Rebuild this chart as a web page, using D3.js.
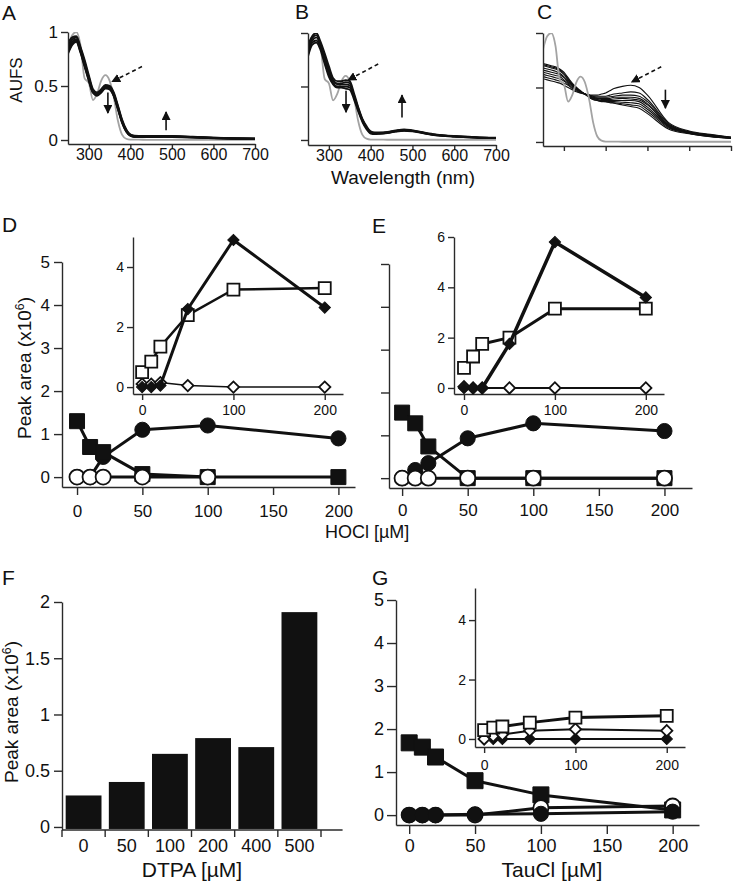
<!DOCTYPE html>
<html><head><meta charset="utf-8">
<script src="https://cdn.jsdelivr.net/npm/d3@7"></script>
<style>
body{margin:0;background:#fff;}
svg{display:block;}
</style></head><body>
<svg id="fig" width="745" height="883"></svg>
<script>
// ---------------- DATA ----------------
const wavelengths = [250,260,270,280,290,300,310,320,330,340,350,360,370,380,390,400,410,420,440,460,480,500,550,600,650,700];
const wlTicks = [300,400,500,600,700];
const aufsTicks = [0,0.5,1];

const greyRef = [0.85,0.97,1.00,0.88,0.57,0.53,0.37,0.43,0.55,0.60,0.55,0.40,0.18,0.05,0.012,0.004,0.003,0.003,0.002,0.002,0.002,0.002,0.002,0.002,0.002,0.002];

const specA1 = [0.90,0.95,0.96,0.86,0.74,0.60,0.47,0.44,0.47,0.51,0.50,0.44,0.32,0.19,0.10,0.05,0.040,0.038,0.037,0.037,0.037,0.036,0.030,0.022,0.016,0.013];
const specA2 = [0.87,0.93,0.95,0.85,0.72,0.58,0.46,0.43,0.46,0.50,0.49,0.43,0.31,0.18,0.09,0.05,0.035,0.034,0.034,0.034,0.035,0.034,0.028,0.020,0.015,0.012];
const specA3 = [0.84,0.91,0.93,0.83,0.70,0.57,0.45,0.42,0.45,0.49,0.48,0.42,0.30,0.17,0.09,0.045,0.032,0.031,0.031,0.032,0.033,0.032,0.026,0.019,0.014,0.011];
const specA4 = [0.82,0.89,0.92,0.82,0.69,0.56,0.44,0.42,0.45,0.48,0.48,0.41,0.29,0.17,0.08,0.04,0.030,0.029,0.029,0.030,0.031,0.030,0.025,0.018,0.013,0.010];
const specA5 = [0.80,0.88,0.91,0.81,0.68,0.55,0.44,0.41,0.44,0.48,0.47,0.41,0.29,0.16,0.08,0.04,0.028,0.027,0.027,0.028,0.029,0.028,0.024,0.017,0.012,0.010];

const specB1 = [0.89,0.97,1.00,0.92,0.81,0.69,0.58,0.55,0.55,0.56,0.55,0.44,0.31,0.20,0.13,0.08,0.07,0.07,0.075,0.09,0.10,0.09,0.055,0.037,0.027,0.021];
const specB2 = [0.86,0.95,0.98,0.90,0.78,0.66,0.56,0.53,0.53,0.54,0.53,0.42,0.30,0.19,0.12,0.075,0.065,0.066,0.072,0.086,0.095,0.088,0.052,0.035,0.025,0.020];
const specB3 = [0.83,0.93,0.96,0.88,0.76,0.63,0.55,0.52,0.52,0.52,0.51,0.41,0.29,0.19,0.115,0.07,0.062,0.063,0.070,0.083,0.092,0.085,0.050,0.034,0.024,0.019];
const specB4 = [0.80,0.91,0.93,0.86,0.73,0.61,0.53,0.50,0.50,0.50,0.49,0.40,0.28,0.18,0.11,0.065,0.058,0.060,0.067,0.080,0.088,0.082,0.048,0.032,0.023,0.018];
const specB5 = [0.78,0.89,0.91,0.84,0.71,0.59,0.52,0.49,0.49,0.48,0.47,0.38,0.27,0.17,0.10,0.06,0.055,0.057,0.065,0.078,0.085,0.080,0.046,0.031,0.022,0.017];

const specC1 = [0.58,0.57,0.56,0.55,0.54,0.52,0.50,0.48,0.46,0.45,0.44,0.43,0.43,0.43,0.44,0.45,0.47,0.49,0.51,0.52,0.50,0.43,0.18,0.10,0.070,0.045];
const specC2 = [0.60,0.59,0.58,0.57,0.56,0.54,0.52,0.49,0.47,0.45,0.44,0.43,0.42,0.42,0.42,0.42,0.43,0.44,0.45,0.46,0.45,0.39,0.17,0.095,0.066,0.043];
const specC3 = [0.62,0.61,0.60,0.59,0.58,0.56,0.53,0.50,0.48,0.46,0.44,0.43,0.42,0.41,0.41,0.41,0.415,0.42,0.43,0.43,0.42,0.37,0.16,0.092,0.063,0.041];
const specC4 = [0.64,0.63,0.62,0.61,0.60,0.57,0.54,0.51,0.48,0.46,0.44,0.43,0.41,0.40,0.40,0.40,0.40,0.41,0.41,0.41,0.40,0.35,0.155,0.089,0.061,0.040];
const specC5 = [0.66,0.65,0.64,0.63,0.62,0.59,0.55,0.52,0.49,0.46,0.44,0.42,0.41,0.40,0.39,0.39,0.39,0.395,0.40,0.395,0.385,0.34,0.15,0.086,0.059,0.038];
const specC6 = [0.68,0.67,0.66,0.65,0.63,0.60,0.56,0.52,0.49,0.46,0.44,0.42,0.40,0.39,0.38,0.38,0.38,0.38,0.38,0.38,0.37,0.32,0.145,0.083,0.056,0.037];
const specC7 = [0.70,0.69,0.68,0.67,0.65,0.62,0.57,0.53,0.49,0.46,0.44,0.42,0.40,0.39,0.38,0.375,0.37,0.37,0.365,0.36,0.35,0.30,0.14,0.080,0.053,0.035];
const specC8 = [0.71,0.70,0.69,0.68,0.66,0.63,0.58,0.53,0.50,0.46,0.44,0.41,0.39,0.38,0.375,0.37,0.365,0.36,0.35,0.34,0.33,0.28,0.13,0.078,0.050,0.033];
const specC9 = [0.72,0.71,0.70,0.69,0.67,0.64,0.59,0.54,0.50,0.47,0.44,0.41,0.39,0.38,0.37,0.37,0.36,0.355,0.34,0.325,0.31,0.26,0.12,0.075,0.048,0.032];

// arrows in data units [wavelength, AUFS]
const arrowsA = [{x1:428,y1:0.68,x2:356,y2:0.54,dash:true},{x1:346,y1:0.44,x2:346,y2:0.25},{x1:486,y1:0.09,x2:486,y2:0.26}];
const arrowsB = [{x1:418,y1:0.71,x2:346,y2:0.56,dash:true},{x1:341,y1:0.46,x2:341,y2:0.26},{x1:475,y1:0.21,x2:475,y2:0.42}];
const arrowsC = [{x1:533,y1:0.69,x2:462,y2:0.55,dash:true},{x1:543,y1:0.48,x2:543,y2:0.31}];

// Panels D/E/G concentrations
const conc = [0,10,20,50,100,200];
const concTicks = [0,50,100,150,200];
const insetTicks = [0,100,200];
const mainYTicks = [0,1,2,3,4,5];

// D main
const dSquaresFilled = [1.30,0.70,0.58,0.07,0.0,0.0];
const dCirclesFilled = [0,0,0.47,1.10,1.20,0.90];
const dCirclesOpenX = [0,10,20,50,100];
const dCirclesOpen = [0,0,0,0,0];
// D inset
const dInsTicks = [0,2,4];
const dInsDiamondsFilled = [0,0,0.05,2.60,4.90,2.65];
const dInsSquaresOpen = [0.50,0.85,1.35,2.40,3.25,3.30];
const dInsDiamondsOpen = [0.10,0.10,0.15,0.05,0.0,0.0];

// E main
const eSquaresFilled = [1.53,1.28,0.74,0.0,0.0,0.0];
const eCirclesFilled = [0,0.19,0.35,0.93,1.28,1.10];
const eCirclesOpen = [0,0,0,0,0,0];
// E inset
const eInsTicks = [0,2,4,6];
const eInsDiamondsFilled = [0,0,0,1.75,5.80,3.60];
const eInsSquaresOpen = [0.80,1.25,1.75,2.00,3.15,3.15];
const eInsDiamondsOpen = [0.05,0,0,0,0,0];

// F bars
const dtpaCats = ["0","50","100","200","400","500"];
const dtpaValues = [0.28,0.40,0.65,0.79,0.71,1.91];
const fYTicks = [0,0.5,1,1.5,2];

// G main
const gSquaresFilled = [1.68,1.58,1.35,0.80,0.47,0.12];
const gCirclesFilled = [0,0,0,0.02,0.03,0.08];
const gCirclesOpen = [0,0,0,0,0.17,0.21];
// G inset
const gInsTicks = [0,2,4];
const gInsSquaresOpen = [0.30,0.38,0.42,0.55,0.72,0.78];
const gInsDiamondsOpen = [0,0.10,0.15,0.28,0.33,0.28];
const gInsDiamondsFilled = [0,0,0,0,0,0];

// ---------------- DRAWING ----------------
const FONT = '"Liberation Sans", Arial, Helvetica, sans-serif';
const svg = d3.select("#fig").attr("font-family", FONT);
const INK = "#111";
const AX = "#2a2a2a";

svg.append("defs").append("marker")
  .attr("id","ah").attr("viewBox","0 0 10 10").attr("refX",9).attr("refY",5)
  .attr("markerUnits","userSpaceOnUse").attr("markerWidth",9).attr("markerHeight",9)
  .attr("orient","auto")
  .append("path").attr("d","M0,0L10,5L0,10z").attr("fill",INK);

function styleAxis(g, fs) {
  g.attr("font-family", null).attr("font-size", null);
  g.selectAll(".domain").attr("stroke", AX).attr("stroke-width", 1.4);
  g.selectAll(".tick line").attr("stroke", AX).attr("stroke-width", 1.4);
  g.selectAll(".tick text").attr("font-size", fs).attr("fill", INK).attr("font-family", FONT);
}

function fmtNum(d){ return String(d); }

function text(x, y, s, fs, anchor, rot) {
  const t = svg.append("text").attr("x", x).attr("y", y).attr("font-size", fs)
    .attr("fill", INK).attr("text-anchor", anchor || "start").text(s);
  if (rot) t.attr("transform", `rotate(${rot},${x},${y})`);
  return t;
}

function peakLabel(x, y, fs) {
  const t = svg.append("text").attr("x", x).attr("y", y).attr("font-size", fs)
    .attr("fill", INK).attr("text-anchor", "middle")
    .attr("transform", `rotate(-90,${x},${y})`);
  t.append("tspan").text("Peak area (x10");
  t.append("tspan").attr("dy", -7).attr("font-size", fs * 0.65).text("6");
  t.append("tspan").attr("dy", 7).text(")");
}

let clipId = 0;
function spectraPanel(cfg) {
  const x = d3.scaleLinear().domain([250, 700]).range(cfg.xr);
  const y = d3.scaleLinear().domain(cfg.yd).range(cfg.yr);
  const ax = svg.append("g").attr("transform", `translate(0,${cfg.yr[0]})`)
    .call(d3.axisBottom(x).tickValues(wlTicks).tickSize(5).tickSizeOuter(0).tickPadding(0)
      .tickFormat(cfg.xLabels ? fmtNum : ""));
  styleAxis(ax, 16);
  const ay = svg.append("g").attr("transform", `translate(${cfg.xr[0]},0)`)
    .call(d3.axisLeft(y).tickValues(aufsTicks).tickSize(7).tickSizeOuter(0).tickPadding(3)
      .tickFormat(cfg.yLabels ? fmtNum : ""));
  styleAxis(ay, 17);

  const id = "clip" + (clipId++);
  svg.append("clipPath").attr("id", id).append("rect")
    .attr("x", cfg.xr[0] + 1).attr("y", cfg.yr[1]).attr("width", cfg.xr[1] - cfg.xr[0])
    .attr("height", cfg.yr[0] - cfg.yr[1] - 1);
  const g = svg.append("g").attr("clip-path", `url(#${id})`);
  const line = d3.line().x((d, i) => x(wavelengths[i])).y(d => y(d)).curve(d3.curveMonotoneX);
  const drawGrey = () => g.append("path").attr("d", line(greyRef)).attr("fill", "none")
    .attr("stroke", "#a3a3a3").attr("stroke-width", 1.8);
  if (!cfg.greyOnTop) drawGrey();
  cfg.curves.forEach(c => g.append("path").attr("d", line(c)).attr("fill", "none")
    .attr("stroke", INK).attr("stroke-width", cfg.lw));
  if (cfg.greyOnTop) drawGrey();

  cfg.arrows.forEach(a => {
    svg.append("line").attr("x1", x(a.x1)).attr("y1", y(a.y1)).attr("x2", x(a.x2)).attr("y2", y(a.y2))
      .attr("stroke", INK).attr("stroke-width", 1.6)
      .attr("stroke-dasharray", a.dash ? "4,3" : null)
      .attr("marker-end", "url(#ah)");
  });
}

spectraPanel({xr:[68,255], yd:[-0.037,1], yr:[144,32], xLabels:true, yLabels:true,
  curves:[specA5,specA4,specA3,specA2,specA1], lw:2, arrows:arrowsA, greyOnTop:false});
spectraPanel({xr:[308,496], yd:[-0.047,1], yr:[145,33], xLabels:true, yLabels:false,
  curves:[specB5,specB4,specB3,specB2,specB1], lw:1.8, arrows:arrowsB, greyOnTop:false});
spectraPanel({xr:[543,731], yd:[-0.037,1], yr:[146,33], xLabels:false, yLabels:false,
  curves:[specC9,specC8,specC7,specC6,specC5,specC4,specC3,specC2,specC1], lw:1.1, arrows:arrowsC, greyOnTop:true});

text(17, 80, "AUFS", 17, "middle", -90).attr("dy", 5);
text(403, 184, "Wavelength (nm)", 19, "middle");

// ---- scatter helpers ----
function makeAxes(cfg) {
  const x = d3.scaleLinear().domain(cfg.xd).range(cfg.xr);
  const y = d3.scaleLinear().domain(cfg.yd).range(cfg.yr);
  const ax = svg.append("g").attr("transform", `translate(0,${cfg.yr[0]})`)
    .call(d3.axisBottom(x).tickValues(cfg.xt).tickSize(cfg.ts).tickSizeOuter(0).tickPadding(cfg.xpad)
      .tickFormat(fmtNum));
  styleAxis(ax, cfg.fs);
  const ay = svg.append("g").attr("transform", `translate(${cfg.xr[0]},0)`)
    .call(d3.axisLeft(y).tickValues(cfg.yt).tickSize(cfg.ts).tickSizeOuter(0).tickPadding(cfg.ypad)
      .tickFormat(cfg.yLabels === false ? "" : fmtNum));
  styleAxis(ay, cfg.fs);
  return {x, y};
}

function drawSeries(s, xs, ys, st) {
  const pts = xs.map((v, i) => ({x: v, y: ys[i]}));
  const g = svg.append("g");
  g.append("path")
    .attr("d", d3.line().x(d => s.x(d.x)).y(d => s.y(d.y))(pts))
    .attr("fill", "none").attr("stroke", INK).attr("stroke-width", st.lw)
    .attr("stroke-linejoin", "round");
  const type = st.shape === "circle" ? d3.symbolCircle : d3.symbolSquare;
  const sym = d3.symbol().type(type).size(st.size);
  g.selectAll("path.m").data(pts).join("path").attr("class", "m")
    .attr("d", sym)
    .attr("transform", d => `translate(${s.x(d.x)},${s.y(d.y)})` + (st.shape === "diamond" ? " rotate(45)" : ""))
    .attr("fill", st.open ? "#fff" : INK)
    .attr("stroke", INK).attr("stroke-width", st.open ? 1.8 : 1);
}

const SQ = 225, CI = 180, ISQ = 144, IDI = 64;

// ---------- Panel D ----------
const dMain = makeAxes({xd:[-11.5,212.7], xr:[62,355], yd:[-0.23,5], yr:[487,262], xt:concTicks, yt:mainYTicks,
  ts:8, xpad:10, ypad:4, fs:17});
drawSeries(dMain, conc, dCirclesFilled, {shape:"circle", size:CI, lw:3});
drawSeries(dMain, conc, dSquaresFilled, {shape:"square", size:SQ, lw:3});
drawSeries(dMain, dCirclesOpenX, dCirclesOpen, {shape:"circle", size:CI, lw:3, open:true});

const dIns = makeAxes({xd:[-10,220], xr:[133,343], yd:[-0.23,5], yr:[394,237], xt:insetTicks, yt:dInsTicks,
  ts:6, xpad:5, ypad:3, fs:14});
drawSeries(dIns, conc, dInsDiamondsOpen, {shape:"diamond", size:IDI, lw:1.5, open:true});
drawSeries(dIns, conc, dInsSquaresOpen, {shape:"square", size:ISQ, lw:2.5, open:true});
drawSeries(dIns, conc, dInsDiamondsFilled, {shape:"diamond", size:IDI, lw:3});

// ---------- Panel E ----------
const eMain = makeAxes({xd:[-10,221], xr:[389,692], yd:[-0.23,5], yr:[488,264], xt:concTicks, yt:mainYTicks,
  ts:8, xpad:8, ypad:4, fs:17, yLabels:false});
drawSeries(eMain, conc, eCirclesFilled, {shape:"circle", size:CI, lw:3});
drawSeries(eMain, conc, eSquaresFilled, {shape:"square", size:SQ, lw:3});
drawSeries(eMain, conc, eCirclesOpen, {shape:"circle", size:CI, lw:3, open:true});

const eIns = makeAxes({xd:[-11,220], xr:[454,664], yd:[-0.24,6], yr:[394,237], xt:insetTicks, yt:eInsTicks,
  ts:6, xpad:5, ypad:3, fs:14});
drawSeries(eIns, conc, eInsDiamondsOpen, {shape:"diamond", size:IDI, lw:2, open:true});
drawSeries(eIns, conc, eInsSquaresOpen, {shape:"square", size:ISQ, lw:3, open:true});
drawSeries(eIns, conc, eInsDiamondsFilled, {shape:"diamond", size:IDI, lw:3.5});

peakLabel(31, 368, 19);
text(325, 538, "HOCl [µM]", 18, "start");

// ---------- Panel F ----------
{
  const x = d3.scaleBand().domain(dtpaCats).range([62, 321]).paddingInner(0.17).paddingOuter(0.085);
  const y = d3.scaleLinear().domain([-0.027, 2]).range([830, 602]);
  svg.append("g").selectAll("rect").data(dtpaValues).join("rect")
    .attr("x", (d, i) => x(dtpaCats[i])).attr("width", x.bandwidth())
    .attr("y", d => y(d)).attr("height", d => y(0) - y(d) + 2)
    .attr("fill", INK);
  const ay = svg.append("g").attr("transform", "translate(62,0)")
    .call(d3.axisLeft(y).tickValues(fYTicks).tickSize(8).tickSizeOuter(0).tickPadding(4).tickFormat(fmtNum));
  styleAxis(ay, 18);
  // x axis: line with ticks at category boundaries
  const r = x.range(), step = x.step();
  const xg = svg.append("g");
  xg.append("line").attr("x1", r[0]).attr("x2", r[1] + step * 0.5).attr("y1", 830).attr("y2", 830)
    .attr("stroke", AX).attr("stroke-width", 1.4);
  d3.range(dtpaCats.length + 1).forEach(i => {
    xg.append("line").attr("x1", r[0] + i * step).attr("x2", r[0] + i * step)
      .attr("y1", 830).attr("y2", 837).attr("stroke", AX).attr("stroke-width", 1.4);
  });
  dtpaCats.forEach(c => text(x(c) + x.bandwidth() / 2, 852, c, 18, "middle"));
  peakLabel(18, 712, 19);
  text(192, 877, "DTPA [µM]", 21, "middle");
}

// ---------- Panel G ----------
const gMain = makeAxes({xd:[-10,220], xr:[396,699], yd:[-0.23,5], yr:[825,600], xt:concTicks, yt:mainYTicks,
  ts:9, xpad:5, ypad:3, fs:18});
drawSeries(gMain, conc, gSquaresFilled, {shape:"square", size:256, lw:3});
drawSeries(gMain, conc, gCirclesOpen, {shape:"circle", size:CI, lw:3, open:true});
drawSeries(gMain, conc, gCirclesFilled, {shape:"circle", size:CI, lw:3});

const gIns = makeAxes({xd:[-10,220], xr:[475,685], yd:[-0.27,5.08], yr:[747,588], xt:insetTicks, yt:gInsTicks,
  ts:6, xpad:7, ypad:3, fs:14});
drawSeries(gIns, conc, gInsDiamondsFilled, {shape:"diamond", size:IDI, lw:2});
drawSeries(gIns, conc, gInsDiamondsOpen, {shape:"diamond", size:IDI, lw:2, open:true});
drawSeries(gIns, conc, gInsSquaresOpen, {shape:"square", size:ISQ, lw:3, open:true});

text(552, 877, "TauCl [µM]", 21, "middle");

// ---------- panel letters ----------
[["A",2,20],["B",295,19],["C",537,19],["D",2,232],["E",372,233],["F",2,585],["G",372,585]]
  .forEach(([s, x, y]) => text(x, y, s, 21, "start"));
</script></body></html>
